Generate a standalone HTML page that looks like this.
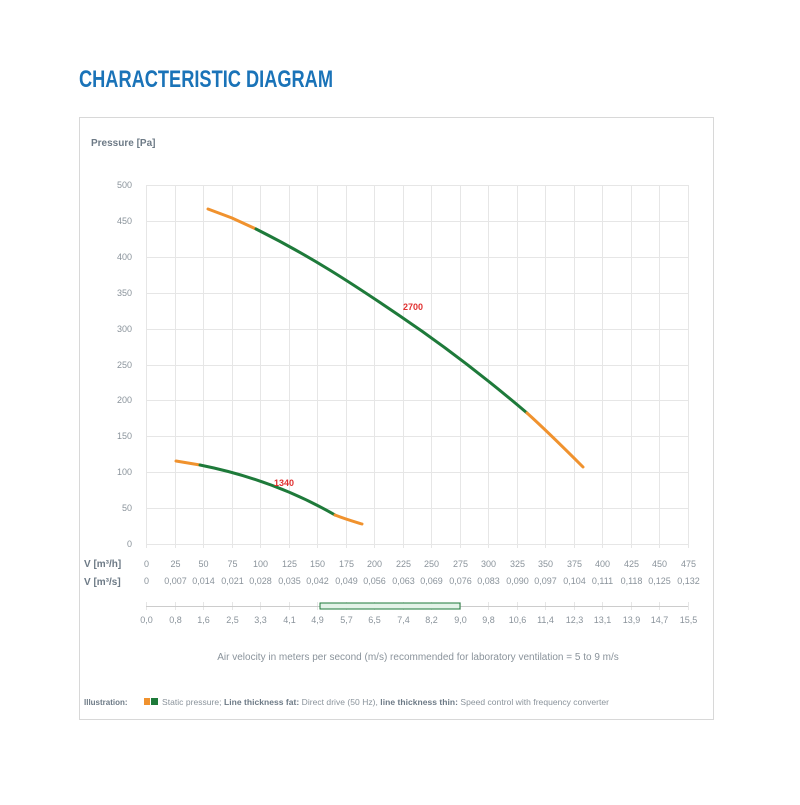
<!DOCTYPE html><html><head><style>body{margin:0;background:#fff;font-family:"Liberation Sans",sans-serif}</style></head><body>
<svg width="800" height="800" xmlns="http://www.w3.org/2000/svg" font-family="Liberation Sans, sans-serif">
<text x="79" y="87" font-size="24" font-weight="bold" fill="#1a73b8" textLength="254" lengthAdjust="spacingAndGlyphs">CHARACTERISTIC DIAGRAM</text>
<rect x="79.5" y="117.5" width="634" height="602" fill="none" stroke="#d8d8d8"/>
<text x="91" y="146" font-size="10" font-weight="bold" fill="#6d7a86">Pressure [Pa]</text>
<g stroke="#e6e6e6" stroke-width="1">
<line x1="146" y1="185.5" x2="688" y2="185.5"/><line x1="146" y1="221.5" x2="688" y2="221.5"/><line x1="146" y1="257.5" x2="688" y2="257.5"/><line x1="146" y1="293.5" x2="688" y2="293.5"/><line x1="146" y1="329.5" x2="688" y2="329.5"/><line x1="146" y1="365.5" x2="688" y2="365.5"/><line x1="146" y1="400.5" x2="688" y2="400.5"/><line x1="146" y1="436.5" x2="688" y2="436.5"/><line x1="146" y1="472.5" x2="688" y2="472.5"/><line x1="146" y1="508.5" x2="688" y2="508.5"/><line x1="146" y1="544.5" x2="688" y2="544.5"/>
</g>
<g id="vg" stroke="#e6e6e6"></g>
<g font-size="9" fill="#8a939b" text-anchor="end">
<text x="132" y="188">500</text><text x="132" y="224">450</text><text x="132" y="260">400</text><text x="132" y="296">350</text><text x="132" y="332">300</text><text x="132" y="368">250</text><text x="132" y="403">200</text><text x="132" y="439">150</text><text x="132" y="475">100</text><text x="132" y="511">50</text><text x="132" y="547">0</text>
</g>
<g id="lab" font-size="9" fill="#8a939b" text-anchor="middle"></g>
<text x="84" y="567" font-size="10" font-weight="bold" fill="#6d7a86">V [m³/h]</text>
<text x="84" y="585" font-size="10" font-weight="bold" fill="#6d7a86">V [m³/s]</text>
<line x1="146" y1="606.5" x2="688" y2="606.5" stroke="#ccc"/>
<rect x="320" y="603" width="140" height="6" fill="#e3f3e8" stroke="#1e7a3a"/>
<g fill="none" stroke-linecap="round">
<path d="M208,209 L232,218 L256,229" stroke="#f0922e" stroke-width="3"/>
<path d="M256,229 C310,256 350,282 400,316 C440,343 480,373 527,413" stroke="#1e7a3a" stroke-width="3"/>
<path d="M527,413 C547,431 565,449 583,467" stroke="#f0922e" stroke-width="3"/>
<path d="M176,461 L200,465" stroke="#f0922e" stroke-width="3"/>
<path d="M200,465 C245,474 290,489 335,515" stroke="#1e7a3a" stroke-width="3"/>
<path d="M335,515 C345,519 352,521 362,524" stroke="#f0922e" stroke-width="3"/>
</g>
<text x="403" y="310" font-size="9" font-weight="bold" fill="#e03030">2700</text>
<text x="274" y="486" font-size="9" font-weight="bold" fill="#e03030">1340</text>
<text x="418" y="660" font-size="10" fill="#8a939b" text-anchor="middle">Air velocity in meters per second (m/s) recommended for laboratory ventilation = 5 to 9 m/s</text>
<text x="84" y="705" font-size="8" fill="#8a939b"><tspan font-weight="bold" fill="#6d7a86">Illustration:</tspan></text>
<rect x="144" y="698" width="6" height="7" fill="#f0922e"/><rect x="151" y="698" width="7" height="7" fill="#1e7a3a"/>
<text x="162" y="705" font-size="8.5" fill="#8a939b" textLength="447" lengthAdjust="spacing">Static pressure; <tspan font-weight="bold" fill="#6d7a86">Line thickness fat:</tspan> Direct drive (50 Hz),  <tspan font-weight="bold" fill="#6d7a86">line thickness thin:</tspan> Speed control with frequency converter</text>
</svg>
<script>
var ns="http://www.w3.org/2000/svg",vg=document.getElementById("vg"),lab=document.getElementById("lab");
var m3s=["0","0,007","0,014","0,021","0,028","0,035","0,042","0,049","0,056","0,063","0,069","0,076","0,083","0,090","0,097","0,104","0,111","0,118","0,125","0,132"];
var ms=["0,0","0,8","1,6","2,5","3,3","4,1","4,9","5,7","6,5","7,4","8,2","9,0","9,8","10,6","11,4","12,3","13,1","13,9","14,7","15,5"];
function t(x,y,s){var e=document.createElementNS(ns,"text");e.setAttribute("x",x);e.setAttribute("y",y);e.textContent=s;lab.appendChild(e);}
function l(x1,y1,x2,y2,p){var e=document.createElementNS(ns,"line");e.setAttribute("x1",x1);e.setAttribute("y1",y1);e.setAttribute("x2",x2);e.setAttribute("y2",y2);p.appendChild(e);}
for(var i=0;i<20;i++){var x=Math.round(146+i*542/19)+0.5;
l(x,185,x,548,vg);l(x,602,x,610,vg);
t(x,567,String(i*25));t(x,584,m3s[i]);t(x,623,ms[i]);}
</script>
</body></html>
